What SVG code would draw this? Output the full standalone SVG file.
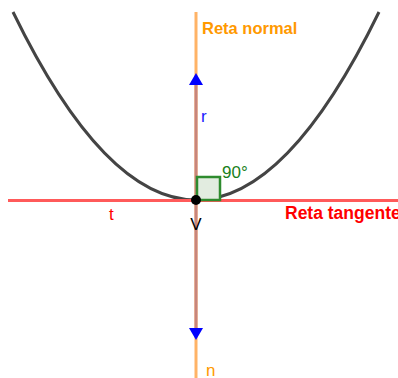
<svg xmlns="http://www.w3.org/2000/svg" width="398" height="378" viewBox="0 0 398 378">
<style>
text{font-family:"Liberation Sans",Arial,sans-serif}
.lbl{font-size:17px}
.bold{font-size:16.5px;font-weight:bold}
.arrow{fill:#0000ff}
</style>
<rect width="398" height="378" fill="#ffffff"/>
<g id="parabola">
<path d="M13,12 Q196,388 379,12" fill="none" stroke="#444444" stroke-width="3"/>
</g>
<g id="connectors">
<line id="normal" x1="196" y1="12" x2="196" y2="378" stroke="#ffb366" stroke-width="3"/>
<line id="tangent" x1="8" y1="200.5" x2="398" y2="200.5" stroke="#ff5a5a" stroke-width="3"/>
<line id="r" x1="196" y1="84" x2="196" y2="329" stroke="#c8857c" stroke-width="3"/>
<polygon class="arrow" points="196,73 189,85 203,85"/>
<polygon class="arrow" points="196,340 189,328 203,328"/>
</g>
<g id="angle">
<rect x="197" y="177" width="23" height="23" fill="#e2ece0" stroke="#2e8b2e" stroke-width="2.5"/>
<text x="222" y="178" class="lbl" fill="#1a801a">90°</text>
</g>
<g id="V">
<circle cx="196" cy="200" r="5" fill="#000000"/>
<text x="196" y="230" class="lbl" fill="#000000" text-anchor="middle">V</text>
</g>
<g id="labels">
<text x="201" y="122" class="lbl" fill="#1a1aff">r</text>
<text x="206" y="376" class="lbl" fill="#ff9900">n</text>
<text x="109" y="220" class="lbl" fill="#ff0000">t</text>
<text x="202" y="34" class="bold" fill="#ff9900">Reta normal</text>
<text x="285" y="219" font-size="17.5" font-weight="bold" fill="#ff0000">Reta tangente</text>
</g>
</svg>
